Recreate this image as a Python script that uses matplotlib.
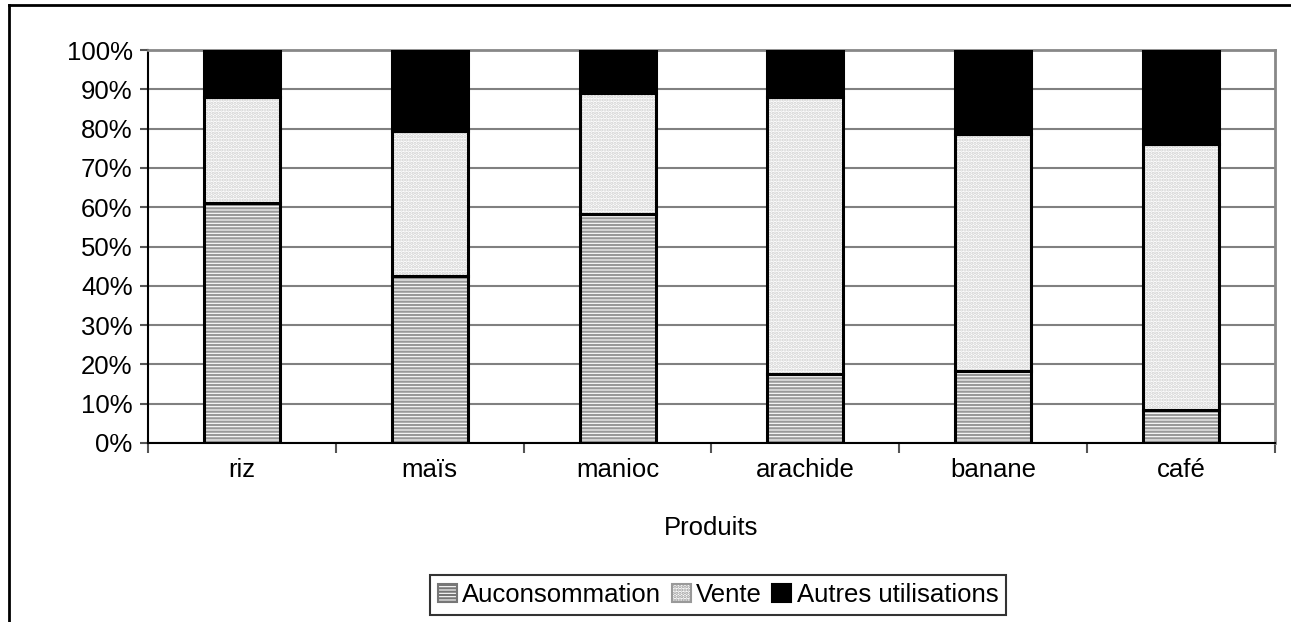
import matplotlib
matplotlib.use('Agg')
import matplotlib.pyplot as plt
from matplotlib.patches import Patch
from matplotlib.lines import Line2D

plt.rcParams['font.family'] = ['Liberation Sans', 'DejaVu Sans']
plt.rcParams['hatch.linewidth'] = 1.6

produits = ['riz', 'maïs', 'manioc', 'arachide', 'banane', 'café']
auconsommation = [61, 42.5, 58.3, 17.5, 18.3, 8.5]
vente = [27, 37, 30.7, 70.5, 60.2, 67.5]
autres = [12, 20.5, 11, 12, 21.5, 24]

fig = plt.figure(figsize=(12.91, 6.22), dpi=100)
ax = fig.add_axes([148/1291, 179/622, 1127/1291, 393/622])

x = range(len(produits))
w = 0.405
bas2 = [a + b for a, b in zip(auconsommation, vente)]

# remplissages (hachures grises)
ax.bar(x, auconsommation, w, color='white', edgecolor='#999999', hatch='-----', lw=0, zorder=2)
ax.bar(x, vente, w, bottom=auconsommation, color='white', edgecolor='#cfcfcf', hatch='.....', lw=0, zorder=2)
ax.bar(x, autres, w, bottom=bas2, color='black', edgecolor='black', lw=0, zorder=2)
# contours noirs
for vals, bot in [(auconsommation, None), (vente, auconsommation), (autres, bas2)]:
    ax.bar(x, vals, w, bottom=bot, fill=False, edgecolor='black', lw=2.2, zorder=3)

fs = 18.5
ax.set_xlim(-0.5, 5.5)
ax.set_ylim(0, 100)
ax.set_yticks(range(0, 101, 10))
ax.set_yticklabels([f'{v}%' for v in range(0, 101, 10)], fontsize=fs)
ax.yaxis.grid(True, color='#808080', lw=1.5, zorder=0)
ax.set_axisbelow(True)

ax.set_xticks(list(x))
ax.set_xticklabels(produits, fontsize=fs)
ax.set_xticks([i - 0.5 for i in range(7)], minor=True)
ax.tick_params(axis='x', which='major', length=0, pad=11)
ax.tick_params(axis='x', which='minor', length=7, width=1.5, color='#555555')
ax.tick_params(axis='y', length=6, width=1.5, color='#555555', pad=5)
ax.set_xlabel('Produits', fontsize=fs, labelpad=24)

for s in ['left', 'bottom']:
    ax.spines[s].set_color('black')
    ax.spines[s].set_linewidth(1.5)
for s in ['top', 'right']:
    ax.spines[s].set_color('#888888')
    ax.spines[s].set_linewidth(2)

handles = [
    Patch(facecolor='white', edgecolor='#777777', hatch='-----', lw=1.5),
    Patch(facecolor='white', edgecolor='#999999', hatch='.....', lw=1.5),
    Patch(facecolor='black', edgecolor='black', lw=1.5),
]
leg = fig.legend(handles, ['Auconsommation', 'Vente', 'Autres utilisations'],
                 loc='center', bbox_to_anchor=(718/1291, 1 - 595/622), ncol=3,
                 fontsize=fs, frameon=True, fancybox=False, shadow=False,
                 handlelength=0.75, handleheight=0.75, handletextpad=0.2,
                 columnspacing=0.4, borderpad=0.3, borderaxespad=0)
leg.get_frame().set_edgecolor('black')
leg.get_frame().set_linewidth(1.5)

# cadre extérieur du graphique
fig.add_artist(Line2D([9/1291, 9/1291], [0, 1 - 5/622], color='black', lw=2))
fig.add_artist(Line2D([9/1291, 1], [1 - 5/622, 1 - 5/622], color='black', lw=2))

fig.savefig('out.png', dpi=100)
